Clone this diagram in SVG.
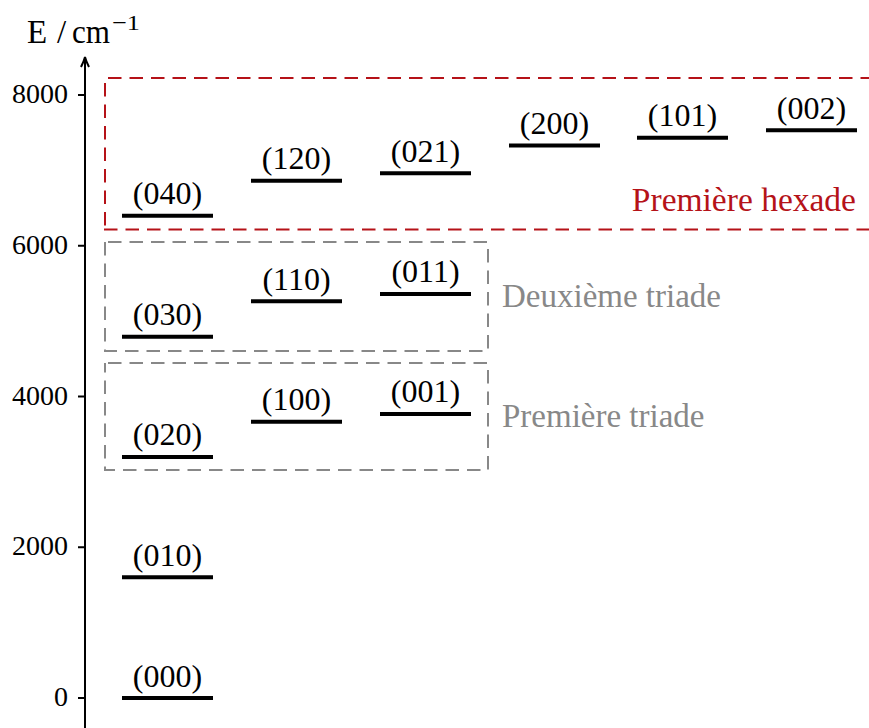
<svg xmlns="http://www.w3.org/2000/svg" width="869" height="728" viewBox="0 0 869 728">
<style>
text{font-family:"Liberation Serif","DejaVu Serif",serif;}
.tick{font-size:28px;text-anchor:end;fill:#000;}
.lbl{font-size:32px;text-anchor:middle;fill:#000;}
.lvl{stroke:#000;stroke-width:4;}
.ax{stroke:#000;stroke-width:2;fill:none;}
.red{stroke:#b51218;stroke-width:2;fill:none;stroke-dasharray:13.5 8;}
.gray{stroke:#888;stroke-width:2;fill:none;stroke-dasharray:13.5 8;stroke-dashoffset:18.5;}
</style>
<rect width="869" height="728" fill="#fff"/>
<g id="axis">
<line class="ax" x1="85" y1="728" x2="85" y2="58"/>
<path class="ax" d="M81,67 Q84,61 85,57 Q86,61 89,67" stroke-width="1.6"/>
<text y="43" style="font-size:33px"><tspan x="27">E</tspan><tspan x="57">/</tspan><tspan x="72" textLength="38" lengthAdjust="spacingAndGlyphs">cm</tspan><tspan x="112" y="30" style="font-size:22px" textLength="28" lengthAdjust="spacingAndGlyphs">−1</tspan></text>
<g class="ax"><line x1="78" y1="95" x2="85" y2="95"/><line x1="78" y1="245.75" x2="85" y2="245.75"/><line x1="78" y1="396.5" x2="85" y2="396.5"/><line x1="78" y1="547.25" x2="85" y2="547.25"/><line x1="78" y1="698" x2="85" y2="698"/></g>
<text class="tick" x="68" y="103">8000</text>
<text class="tick" x="68" y="254">6000</text>
<text class="tick" x="68" y="405">4000</text>
<text class="tick" x="68" y="555">2000</text>
<text class="tick" x="68" y="706">0</text>
</g>
<g id="groups">
<line class="red" x1="108" y1="78" x2="869" y2="78"/>
<line class="red" x1="105" y1="83" x2="105" y2="229.5"/>
<line class="red" x1="104" y1="229.5" x2="869" y2="229.5"/>
<text x="856" y="211" style="font-size:33.5px;fill:#b51218;text-anchor:end">Première hexade</text>
<rect class="gray" x="105" y="242" width="383" height="109"/>
<text x="502" y="307" style="font-size:33px;fill:#888">Deuxième triade</text>
<rect class="gray" x="105" y="363" width="383" height="107"/>
<text x="502" y="427" style="font-size:33px;fill:#888">Première triade</text>
</g>
<g id="n000"><line class="lvl" x1="122" y1="698" x2="213" y2="698"/><text class="lbl" x="167.5" y="687">(000)</text></g>
<g id="n010"><line class="lvl" x1="122" y1="577.3" x2="213" y2="577.3"/><text class="lbl" x="167.5" y="566">(010)</text></g>
<g id="n020"><line class="lvl" x1="122" y1="457" x2="213" y2="457"/><text class="lbl" x="167.5" y="445">(020)</text></g>
<g id="n030"><line class="lvl" x1="122" y1="336.7" x2="213" y2="336.7"/><text class="lbl" x="167.5" y="325">(030)</text></g>
<g id="n040"><line class="lvl" x1="122" y1="215.7" x2="213" y2="215.7"/><text class="lbl" x="167.5" y="204">(040)</text></g>
<g id="n100"><line class="lvl" x1="251" y1="421.7" x2="342" y2="421.7"/><text class="lbl" x="296.5" y="410">(100)</text></g>
<g id="n110"><line class="lvl" x1="251" y1="301.3" x2="342" y2="301.3"/><text class="lbl" x="296.5" y="290">(110)</text></g>
<g id="n120"><line class="lvl" x1="251" y1="180.7" x2="342" y2="180.7"/><text class="lbl" x="296.5" y="169">(120)</text></g>
<g id="n001"><line class="lvl" x1="380" y1="414" x2="471" y2="414"/><text class="lbl" x="425.5" y="402">(001)</text></g>
<g id="n011"><line class="lvl" x1="380" y1="294" x2="471" y2="294"/><text class="lbl" x="425.5" y="282">(011)</text></g>
<g id="n021"><line class="lvl" x1="380" y1="173.3" x2="471" y2="173.3"/><text class="lbl" x="425.5" y="162">(021)</text></g>
<g id="n200"><line class="lvl" x1="509" y1="145.5" x2="600" y2="145.5"/><text class="lbl" x="554.5" y="134">(200)</text></g>
<g id="n101"><line class="lvl" x1="637" y1="137.7" x2="728" y2="137.7"/><text class="lbl" x="682.5" y="126">(101)</text></g>
<g id="n002"><line class="lvl" x1="766" y1="130.3" x2="857" y2="130.3"/><text class="lbl" x="811.5" y="119">(002)</text></g>
<g id="connectors"></g>
</svg>
